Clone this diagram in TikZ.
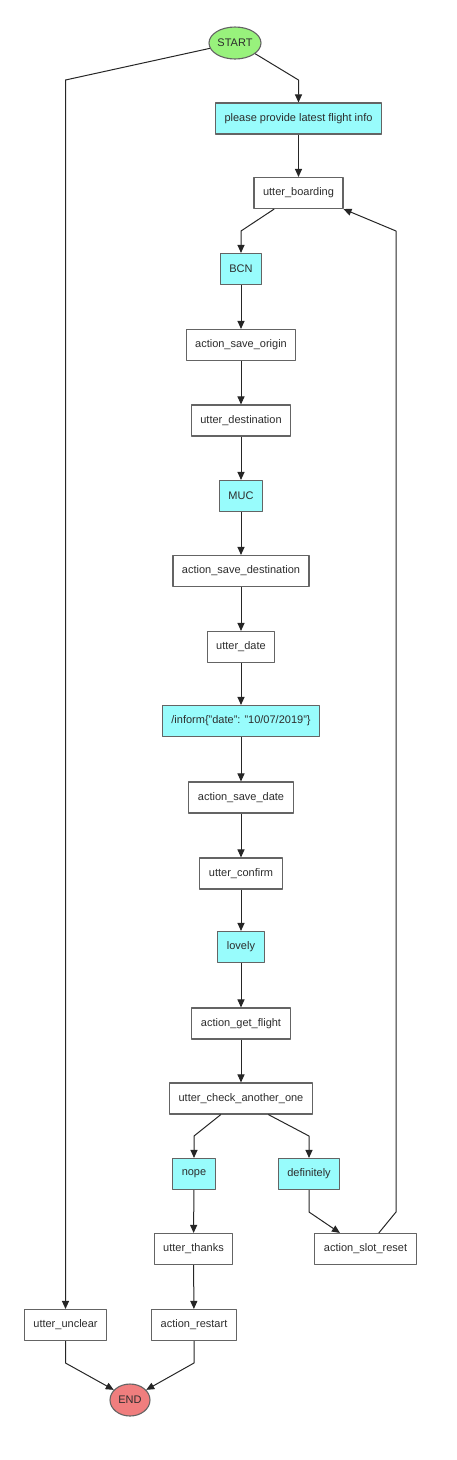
\documentclass[tikz,border=0pt]{standalone}
\usepackage{fontspec}
\setmainfont{Liberation Sans}
\usetikzlibrary{arrows.meta,calc,shapes.geometric}
\definecolor{intentcyan}{RGB}{152,252,252}
\definecolor{startgreen}{RGB}{152,242,124}
\definecolor{endred}{RGB}{240,126,126}
\definecolor{framegray}{RGB}{100,100,100}
\definecolor{labelgray}{RGB}{45,45,45}
\begin{document}
\begin{tikzpicture}[x=1pt,y={(0,-1pt)},line join=round,
  action/.style={draw=framegray,line width=1.1pt,rectangle,fill=white,inner xsep=9pt,minimum height=31pt,text=labelgray,font=\fontsize{11}{13}\selectfont},
  intent/.style={action,fill=intentcyan},
  terminal/.style={draw=framegray,line width=1.1pt,ellipse,inner sep=0pt,minimum height=32pt,text=labelgray,font=\fontsize{11}{13}\selectfont},
  edge/.style={draw=black!85,line width=1pt,-{Triangle[length=8pt,width=7pt]}}]
\useasboundingbox (0,0) rectangle (456,1460);
\node[terminal,fill=startgreen,minimum width=52pt] (start) at (235,43) {START};
\node[intent]  (please)     at (298.5,118.5) {please provide latest flight info};
\node[action]  (boarding)   at (298.5,193) {utter\_boarding};
\node[intent]  (bcn)        at (241,269) {BCN};
\node[action]  (saveorigin) at (241,345) {action\_save\_origin};
\node[action]  (udest)      at (241,420.5) {utter\_destination};
\node[intent]  (muc)        at (241,496) {MUC};
\node[action]  (savedest)   at (241,571) {action\_save\_destination};
\node[action]  (udate)      at (241,647) {utter\_date};
\node[intent]  (inform)     at (241,721) {/inform\{"date": "10/07/2019"\}};
\node[action]  (savedate)   at (241,797.5) {action\_save\_date};
\node[action]  (uconfirm)   at (241,873.5) {utter\_confirm};
\node[intent]  (lovely)     at (241,947) {lovely};
\node[action]  (getflight)  at (241,1023.5) {action\_get\_flight};
\node[action]  (ucheck)     at (241,1098.5) {utter\_check\_another\_one};
\node[intent]  (nope)       at (194,1174) {nope};
\node[intent]  (definitely) at (309,1174) {definitely};
\node[action]  (uthanks)    at (193.5,1249) {utter\_thanks};
\node[action]  (slotreset)  at (365.5,1249) {action\_slot\_reset};
\node[action]  (uunclear)   at (65.5,1325) {utter\_unclear};
\node[action]  (restart)    at (194,1325) {action\_restart};
\node[terminal,fill=endred,minimum width=40pt] (end) at (130,1400) {END};
\coordinate (k1) at (65.5,80);
\coordinate (k2) at (298.5,80);
\coordinate (k3) at (241,231);
\coordinate (k4) at (194,1136);
\coordinate (k5) at (309,1136);
\coordinate (k6) at (309,1212);
\coordinate (k7) at (396,1212);
\coordinate (k8) at (396,231);
\coordinate (k9) at (65.5,1363);
\coordinate (k10) at (194,1363);
\draw[edge] (start.192)--(k1)--(uunclear.north);
\draw[edge] (start.-28)--(k2)--(please.north);
\draw[edge] (please)--(boarding);
\draw[edge] ($(boarding.south west)!0.23!(boarding.south east)$)--(k3)--(bcn.north);
\draw[edge] (bcn)--(saveorigin);
\draw[edge] (saveorigin)--(udest);
\draw[edge] (udest)--(muc);
\draw[edge] (muc)--(savedest);
\draw[edge] (savedest)--(udate);
\draw[edge] (udate)--(inform);
\draw[edge] (inform)--(savedate);
\draw[edge] (savedate)--(uconfirm);
\draw[edge] (uconfirm)--(lovely);
\draw[edge] (lovely)--(getflight);
\draw[edge] (getflight)--(ucheck);
\draw[edge] ($(ucheck.south west)!0.36!(ucheck.south east)$)--(k4)--(nope.north);
\draw[edge] ($(ucheck.south west)!0.69!(ucheck.south east)$)--(k5)--(definitely.north);
\draw[edge] (nope)--(uthanks);
\draw[edge] (definitely.south)--(k6)--($(slotreset.north west)!0.25!(slotreset.north east)$);
\draw[edge] ($(slotreset.north west)!0.63!(slotreset.north east)$)--(k7)--(k8)--(boarding.south east);
\draw[edge] (uthanks)--(restart);
\draw[edge] (uunclear.south)--(k9)--(end.148);
\draw[edge] (restart.south)--(k10)--(end.32);
\end{tikzpicture}
\end{document}
